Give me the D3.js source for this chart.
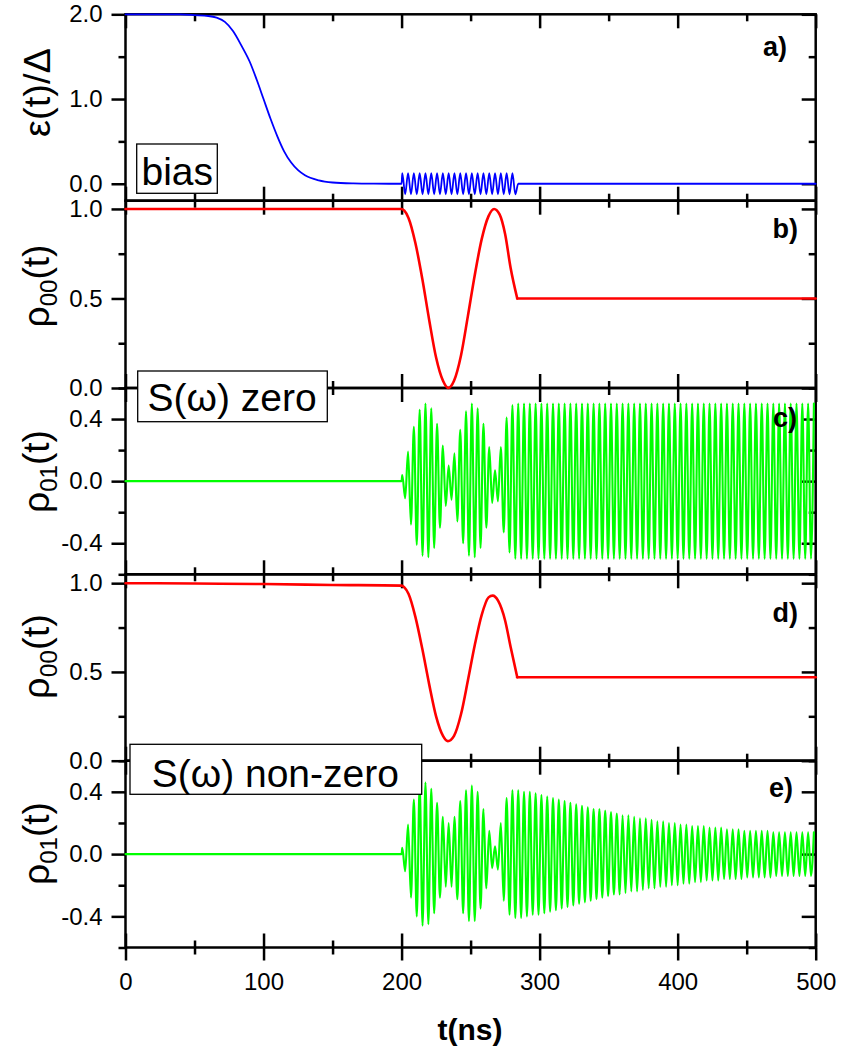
<!DOCTYPE html>
<html>
<head>
<meta charset="utf-8">
<script src="https://cdn.jsdelivr.net/npm/d3@7"></script>
<style>
  html, body { margin: 0; padding: 0; background: #fff; }
  svg { display: block; }
</style>
</head>
<body>
<svg id="chart" width="842" height="1057"></svg>
<script>
// ---------- data ----------
// time axis (ns)
const timeTicks = [0, 100, 200, 300, 400, 500];
const timeMinorTicks = [50, 150, 250, 350, 450];

// (a) bias ramp epsilon(t)/Delta before the pulse
const biasT = [0, 30, 40, 50, 60, 66, 72, 78, 84, 90, 95, 100, 105, 110, 115, 120, 125, 130, 140, 150, 165, 180, 200];
const biasV = [2.0, 2.0, 1.998, 1.99, 1.98, 1.96, 1.91, 1.80, 1.63, 1.44, 1.23, 1.0, 0.77, 0.56, 0.38, 0.25, 0.16, 0.10, 0.04, 0.015, 0.004, 0.001, 0];
// microwave pulse: successive extrema, sampled every half period from pulseStart
const pulseStart = 200.5;
const pulseHalfPeriod = 2.1;
const biasPulse = [
  0.125, -0.125, 0.125, -0.125, 0.125, -0.125, 0.125, -0.125, 0.125, -0.125,
  0.125, -0.125, 0.125, -0.125, 0.125, -0.125, 0.125, -0.125, 0.125, -0.125,
  0.125, -0.125, 0.125, -0.125, 0.125, -0.125, 0.125, -0.125, 0.125, -0.125,
  0.125, -0.125, 0.125, -0.125, 0.125, -0.125, 0.125, -0.125, 0.125, -0.125
];
const biasTailT = [284.5, 500];
const biasTailV = [0, 0];

// (b) rho00, S(w) zero
const rho00ZeroT = [0, 200, 202, 205, 210, 215, 220, 225, 230, 233.8, 238, 243, 248, 253, 258, 263, 267, 271, 275, 279, 283.8];
const rho00ZeroV = [1, 1, 0.99, 0.95, 0.81, 0.61, 0.38, 0.17, 0.04, 0, 0.04, 0.18, 0.40, 0.63, 0.83, 0.96, 1.0, 0.97, 0.86, 0.67, 0.5];
const rho00ZeroTailT = [283.8, 500];
const rho00ZeroTailV = [0.5, 0.5];

// (c) rho01, S(w) zero: flat part, then extrema on the pulse grid
const rho01ZeroFlatT = [0, 200];
const rho01ZeroFlatV = [0, 0];
const rho01ZeroSwing = [
  0.04, -0.11, 0.19, -0.28, 0.35, -0.41, 0.46, -0.48, 0.50, -0.49,
  0.47, -0.43, 0.37, -0.30, 0.23, -0.16, 0.10, -0.12, 0.18, -0.26,
  0.33, -0.40, 0.45, -0.48, 0.50, -0.49, 0.47, -0.43, 0.37, -0.30,
  0.22, -0.14, 0.07, -0.13, 0.22, -0.33, 0.41, -0.46, 0.49, -0.50,
  0.50,
  -0.5, 0.5, -0.5, 0.5, -0.5, 0.5, -0.5, 0.5, -0.5, 0.5,
  -0.5, 0.5, -0.5, 0.5, -0.5, 0.5, -0.5, 0.5, -0.5, 0.5,
  -0.5, 0.5, -0.5, 0.5, -0.5, 0.5, -0.5, 0.5, -0.5, 0.5,
  -0.5, 0.5, -0.5, 0.5, -0.5, 0.5, -0.5, 0.5, -0.5, 0.5,
  -0.5, 0.5, -0.5, 0.5, -0.5, 0.5, -0.5, 0.5, -0.5, 0.5,
  -0.5, 0.5, -0.5, 0.5, -0.5, 0.5, -0.5, 0.5, -0.5, 0.5,
  -0.5, 0.5, -0.5, 0.5, -0.5, 0.5, -0.5, 0.5, -0.5, 0.5,
  -0.5, 0.5, -0.5, 0.5, -0.5, 0.5, -0.5, 0.5, -0.5, 0.5,
  -0.5, 0.5, -0.5, 0.5, -0.5, 0.5, -0.5, 0.5, -0.5, 0.5,
  -0.5, 0.5, -0.5, 0.5, -0.5, 0.5, -0.5, 0.5, -0.5, 0.5,
  -0.5, 0.5
];

// (d) rho00, S(w) non-zero
const rho00NoiseT = [0, 50, 100, 150, 200, 202, 205, 210, 215, 220, 225, 230, 233.5, 238, 243, 248, 253, 258, 263, 266, 270, 275, 279, 283.8];
const rho00NoiseV = [1.0, 0.998, 0.995, 0.99, 0.986, 0.976, 0.94, 0.81, 0.63, 0.43, 0.25, 0.14, 0.11, 0.14, 0.26, 0.45, 0.65, 0.82, 0.92, 0.93, 0.90, 0.79, 0.64, 0.47];
const rho00NoiseTailT = [283.8, 500];
const rho00NoiseTailV = [0.47, 0.47];

// (e) rho01, S(w) non-zero
const rho01NoiseFlatT = [0, 200];
const rho01NoiseFlatV = [0, 0];
const rho01NoiseSwing = [
  0.04, -0.11, 0.19, -0.28, 0.35, -0.40, 0.44, -0.46, 0.46, -0.45,
  0.42, -0.38, 0.33, -0.28, 0.24, -0.21, 0.20, -0.21, 0.24, -0.29,
  0.34, -0.38, 0.41, -0.43, 0.44, -0.43, 0.40, -0.35, 0.29, -0.22,
  0.15, -0.09, 0.05, -0.10, 0.20, -0.30, 0.36, -0.39, 0.41, -0.41,
  0.41,
  -0.41, 0.40, -0.40, 0.40, -0.39, 0.39, -0.39, 0.38, -0.38, 0.37,
  -0.37, 0.36, -0.36, 0.35, -0.35, 0.34, -0.34, 0.33, -0.33, 0.32,
  -0.32, 0.31, -0.31, 0.30, -0.30, 0.29, -0.29, 0.29, -0.28, 0.28,
  -0.27, 0.27, -0.26, 0.26, -0.26, 0.25, -0.25, 0.25, -0.24, 0.24,
  -0.24, 0.23, -0.23, 0.23, -0.22, 0.22, -0.22, 0.21, -0.21, 0.21,
  -0.21, 0.20, -0.20, 0.20, -0.20, 0.19, -0.19, 0.19, -0.19, 0.18,
  -0.18, 0.18, -0.18, 0.18, -0.17, 0.17, -0.17, 0.17, -0.17, 0.17,
  -0.16, 0.16, -0.16, 0.16, -0.16, 0.16, -0.16, 0.15, -0.15, 0.15,
  -0.15, 0.15, -0.15, 0.15, -0.15, 0.15, -0.15, 0.14, -0.14, 0.14,
  -0.14, 0.14, -0.14, 0.14, -0.14, 0.14, -0.14, 0.14, -0.14, 0.14,
  -0.14, 0.14
];

// ---------- helpers ----------
const zip = (ts, vs) => ts.map((t, i) => [t, vs[i]]);
const onPulseGrid = vs => vs.map((v, i) => [pulseStart + i * pulseHalfPeriod, v]);
const fmt = v => v.toFixed(1);
const FONT = "'Liberation Sans', Arial, Helvetica, sans-serif";

// ---------- layout ----------
const svg = d3.select("#chart");
const x = d3.scaleLinear().domain([0, 500]).range([125.5, 815.7]);
const [x0, x1] = x.range();

const panels = [
  { id: "a", domain: [-0.2, 2.0],  top: 14.3,  bottom: 200.7, major: [0, 1, 2],       minor: [0.5, 1.5] },
  { id: "b", domain: [0, 1.046],   top: 200.7, bottom: 388,   major: [0, 0.5, 1],     minor: [0.25, 0.75] },
  { id: "c", domain: [-0.6, 0.6],  top: 388,   bottom: 574.3, major: [-0.4, 0, 0.4],  minor: [-0.6, -0.2, 0.2, 0.6] },
  { id: "d", domain: [0, 1.05],    top: 574.3, bottom: 760.7, major: [0, 0.5, 1],     minor: [0.25, 0.75] },
  { id: "e", domain: [-0.6, 0.6],  top: 760.7, bottom: 947.5, major: [-0.4, 0, 0.4],  minor: [-0.6, -0.2, 0.2, 0.6] }
];
panels.forEach(p => { p.y = d3.scaleLinear().domain(p.domain).range([p.bottom, p.top]); });
const Y = Object.fromEntries(panels.map(p => [p.id, p.y]));

const MAJ = 14, MIN = 7, AXW = 2.5;

function styleAxis(g) {
  g.select(".domain").remove();
  g.selectAll(".tick line").attr("stroke", "#000").attr("stroke-width", AXW);
  g.selectAll(".tick text").attr("fill", "#000").attr("font-family", FONT).attr("font-size", 24);
  g.attr("font-family", FONT);
}

const axesLayer = svg.append("g");
const curveLayer = svg.append("g");
const overLayer = svg.append("g");

panels.forEach(p => {
  const g = axesLayer.append("g");
  // left: outward ticks with labels
  g.append("g").attr("transform", `translate(${x0},0)`)
    .call(d3.axisLeft(p.y).tickValues(p.major).tickSize(MAJ).tickPadding(9).tickFormat(fmt)).call(styleAxis);
  g.append("g").attr("transform", `translate(${x0},0)`)
    .call(d3.axisLeft(p.y).tickValues(p.minor).tickSize(MIN).tickFormat("")).call(styleAxis);
  // right: inward ticks
  g.append("g").attr("transform", `translate(${x1},0)`)
    .call(d3.axisRight(p.y).tickValues(p.major).tickSize(-MAJ).tickFormat("")).call(styleAxis);
  g.append("g").attr("transform", `translate(${x1},0)`)
    .call(d3.axisRight(p.y).tickValues(p.minor).tickSize(-MIN).tickFormat("")).call(styleAxis);
  // top / bottom: inward ticks
  g.append("g").attr("transform", `translate(0,${p.top})`)
    .call(d3.axisTop(x).tickValues(timeTicks).tickSize(-MAJ).tickFormat("")).call(styleAxis);
  g.append("g").attr("transform", `translate(0,${p.top})`)
    .call(d3.axisTop(x).tickValues(timeMinorTicks).tickSize(-MIN).tickFormat("")).call(styleAxis);
  g.append("g").attr("transform", `translate(0,${p.bottom})`)
    .call(d3.axisBottom(x).tickValues(timeTicks).tickSize(-MAJ).tickFormat("")).call(styleAxis);
  g.append("g").attr("transform", `translate(0,${p.bottom})`)
    .call(d3.axisBottom(x).tickValues(timeMinorTicks).tickSize(-MIN).tickFormat("")).call(styleAxis);
  // frame
  g.append("rect")
    .attr("x", x0).attr("y", p.top).attr("width", x1 - x0).attr("height", p.bottom - p.top)
    .attr("fill", "none").attr("stroke", "#000").attr("stroke-width", AXW);
});

// shared time axis under the last panel: outward ticks + labels
const last = panels[panels.length - 1];
axesLayer.append("g").attr("transform", `translate(0,${last.bottom})`)
  .call(d3.axisBottom(x).tickValues(timeTicks).tickSize(13).tickPadding(12).tickFormat(d3.format("d"))).call(styleAxis);
axesLayer.append("g").attr("transform", `translate(0,${last.bottom})`)
  .call(d3.axisBottom(x).tickValues(timeMinorTicks).tickSize(MIN).tickFormat("")).call(styleAxis);

// ---------- curves ----------
function draw(id, pts, color, width, curve) {
  const line = d3.line().x(d => x(d[0])).y(d => Y[id](d[1])).curve(curve || d3.curveMonotoneX);
  curveLayer.append("path").datum(pts).attr("d", line)
    .attr("fill", "none").attr("stroke", color).attr("stroke-width", width)
    .attr("stroke-linejoin", "round").attr("stroke-linecap", "round");
}

const BLUE = "#0000ff", RED = "#ff0000", GREEN = "#00ff00";

draw("a", zip(biasT, biasV).concat(onPulseGrid(biasPulse), zip(biasTailT, biasTailV)), BLUE, 1.8);
draw("b", zip(rho00ZeroT, rho00ZeroV), RED, 2.6);
draw("b", zip(rho00ZeroTailT, rho00ZeroTailV), RED, 2.6, d3.curveLinear);
draw("c", zip(rho01ZeroFlatT, rho01ZeroFlatV).concat(onPulseGrid(rho01ZeroSwing)), GREEN, 2.1);
draw("d", zip(rho00NoiseT, rho00NoiseV), RED, 2.6);
draw("d", zip(rho00NoiseTailT, rho00NoiseTailV), RED, 2.6, d3.curveLinear);
draw("e", zip(rho01NoiseFlatT, rho01NoiseFlatV).concat(onPulseGrid(rho01NoiseSwing)), GREEN, 2.1);

// ---------- annotations ----------
function box(bx, by, bw, bh, tx, ty, label) {
  overLayer.append("rect").attr("x", bx).attr("y", by).attr("width", bw).attr("height", bh)
    .attr("fill", "#fff").attr("stroke", "#000").attr("stroke-width", 1.3);
  overLayer.append("text").attr("x", tx).attr("y", ty)
    .attr("font-family", FONT).attr("font-size", 39).attr("fill", "#000").text(label);
}
box(136.7, 144, 80.6, 49.3, 141.5, 185, "bias");
box(137.7, 371, 189.6, 50.7, 147.5, 411, "S(\u03c9) zero");
box(130, 744.3, 291.7, 50, 151.7, 786.5, "S(\u03c9) non-zero");

// panel letters
const letters = [["a)", 787, 56], ["b)", 798, 238], ["c)", 797, 427], ["d)", 798, 622], ["e)", 793, 797]];
letters.forEach(([s, lx, ly]) => {
  overLayer.append("text").attr("x", lx).attr("y", ly).attr("text-anchor", "end")
    .attr("font-family", FONT).attr("font-weight", "bold").attr("font-size", 27).text(s);
});

// y titles (rotated), fitted to a given length along the axis
function yTitle(cx, cy, len, main, sub, tail) {
  const t = overLayer.append("text")
    .attr("text-anchor", "middle").attr("font-family", FONT).attr("font-size", 37).attr("fill", "#000");
  t.append("tspan").text(main);
  if (sub) {
    t.append("tspan").attr("font-size", 24).attr("dy", 8).text(sub);
    t.append("tspan").attr("dy", -8).text(tail);
  }
  const w = t.node().getBBox().width;
  t.attr("transform", `translate(${cx},${cy}) rotate(-90) scale(${len / w},1)`);
}
yTitle(50, 92.5, 89, "\u03b5(t)/\u0394");
yTitle(49, 286, 83, "\u03c1", "00", "(t)");
yTitle(49, 471.5, 83, "\u03c1", "01", "(t)");
yTitle(49, 656.5, 85, "\u03c1", "00", "(t)");
yTitle(49, 843.5, 83, "\u03c1", "01", "(t)");

// x title
overLayer.append("text").attr("x", 470).attr("y", 1040).attr("text-anchor", "middle")
  .attr("font-family", FONT).attr("font-weight", "bold").attr("font-size", 30).text("t(ns)");
</script>
</body>
</html>
